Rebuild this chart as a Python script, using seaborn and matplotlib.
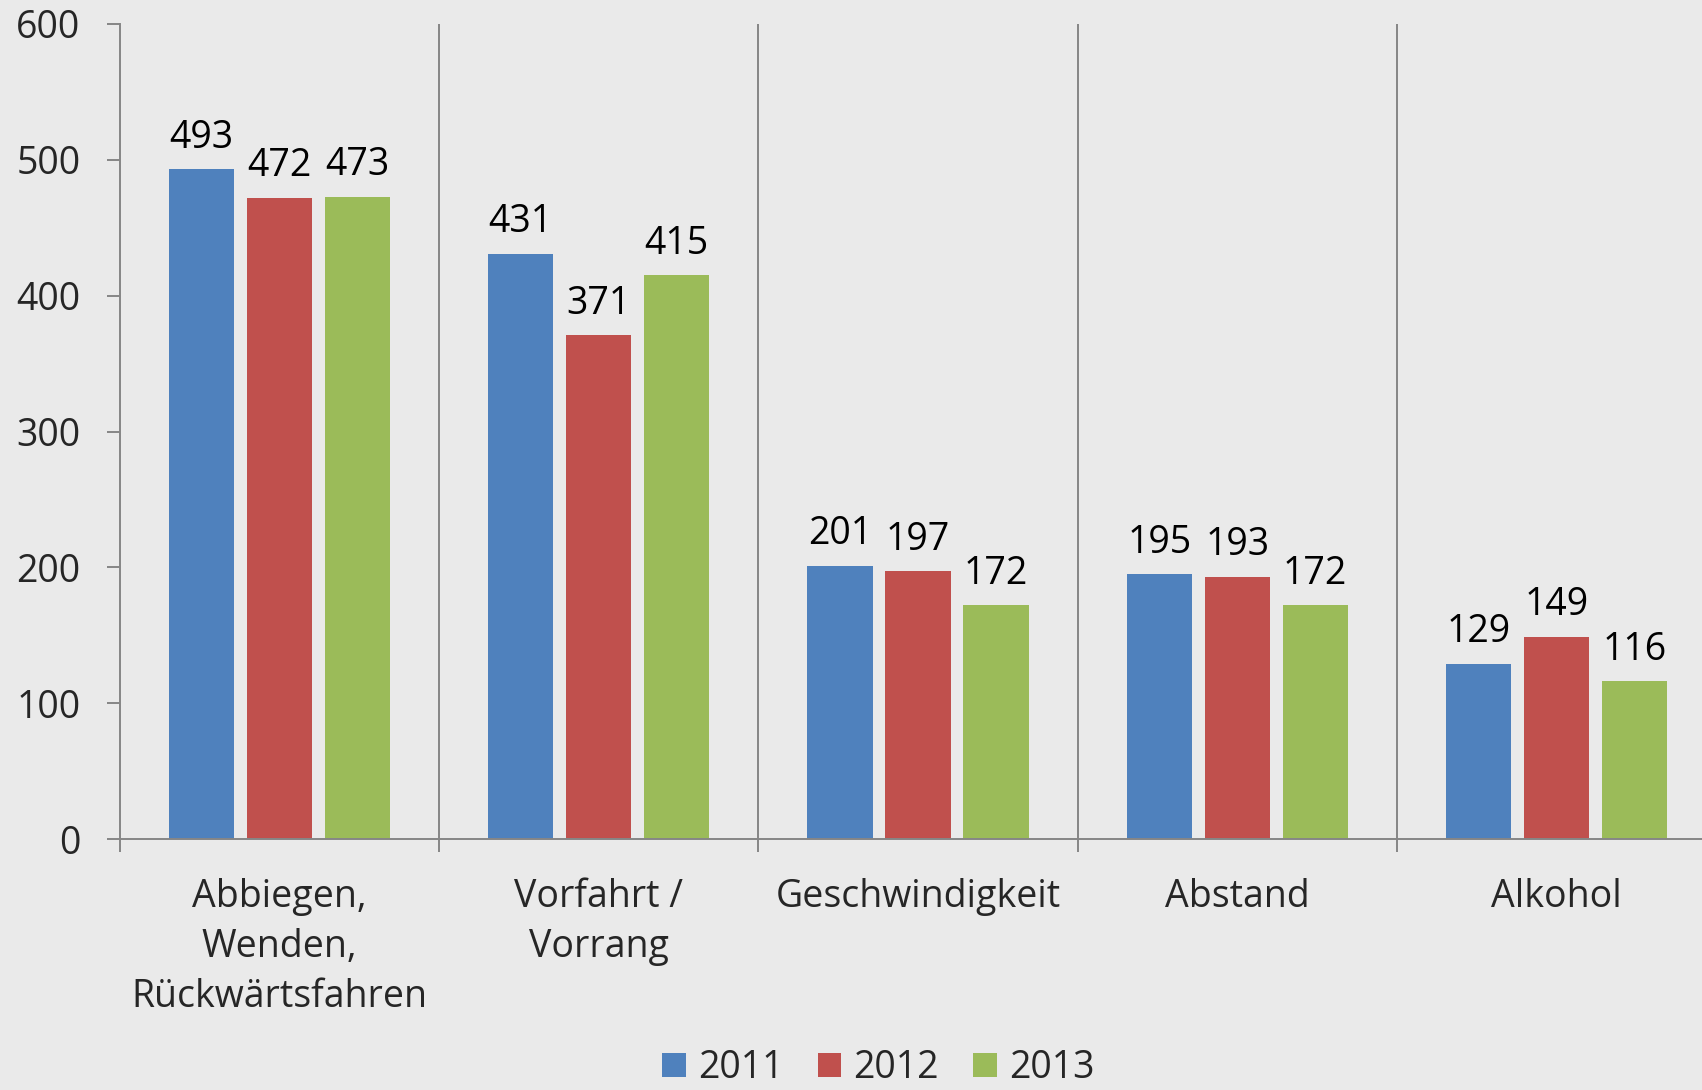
import matplotlib
matplotlib.use("Agg")
import matplotlib.pyplot as plt
import seaborn as sns
import pandas as pd
import numpy as np

# data
categories = ['Abbiegen,\nWenden,\nRückwärtsfahren', 'Vorfahrt /\nVorrang',
              'Geschwindigkeit', 'Abstand', 'Alkohol']
years = ['2011', '2012', '2013']
vals_2011 = [493, 431, 201, 195, 129]
vals_2012 = [472, 371, 197, 193, 149]
vals_2013 = [473, 415, 172, 172, 116]
yticks = [0, 100, 200, 300, 400, 500, 600]

colors = ['#4F81BD', '#C0504D', '#9BBB59']
bg = '#EAEAEA'
axis_grey = '#868686'

df = pd.DataFrame({
    'Kategorie': categories * 3,
    'Jahr': [years[0]] * 5 + [years[1]] * 5 + [years[2]] * 5,
    'Anzahl': vals_2011 + vals_2012 + vals_2013,
})

sns.set_style('white')
plt.rcParams['font.family'] = ['Open Sans', 'DejaVu Sans']
fs = 27

fig = plt.figure(figsize=(17.02, 10.90), dpi=100, facecolor=bg)
ax = fig.add_axes([120 / 1702, 1 - 839 / 1090, 1596 / 1702, 815 / 1090])
ax.set_facecolor(bg)

sns.barplot(data=df, x='Kategorie', y='Anzahl', hue='Jahr', order=categories,
            hue_order=years, palette=colors, saturation=1, width=0.733, gap=0.165,
            ax=ax, errorbar=None, linewidth=0)

for cont in ax.containers:
    ax.bar_label(cont, fmt='%d', padding=9, fontsize=fs, color='black')

ax.set_ylim(0, 600)
ax.set_xlim(-0.5, 4.5)
ax.set_yticks(yticks)
ax.set_xlabel('')
ax.set_ylabel('')

# category separators
for xb in [0.5, 1.5, 2.5, 3.5]:
    ax.axvline(xb, color=axis_grey, lw=1.4, zorder=0)

for s in ['top', 'right']:
    ax.spines[s].set_visible(False)
for s in ['left', 'bottom']:
    ax.spines[s].set_color(axis_grey)
    ax.spines[s].set_linewidth(1.4)

ax.tick_params(axis='y', length=9.4, width=1.4, color=axis_grey, labelsize=fs, pad=19, left=True)
ax.tick_params(axis='x', which='major', length=0, labelsize=fs, pad=28)
ax.set_xticks([-0.5, 0.5, 1.5, 2.5, 3.5, 4.5], minor=True)
ax.tick_params(axis='x', which='minor', length=9.4, width=1.4, color=axis_grey, bottom=True)
for lab in ax.get_xticklabels():
    lab.set_linespacing(1.42)

handles, labels = ax.get_legend_handles_labels()
ax.get_legend().remove()
fig.legend(handles, labels, loc='center', bbox_to_anchor=(0.516, 0.02), ncol=3,
           frameon=False, fontsize=fs, handlelength=0.63, handleheight=0.63,
           handletextpad=0.32, columnspacing=0.92)

fig.savefig('out.png', dpi=100, facecolor=bg)
